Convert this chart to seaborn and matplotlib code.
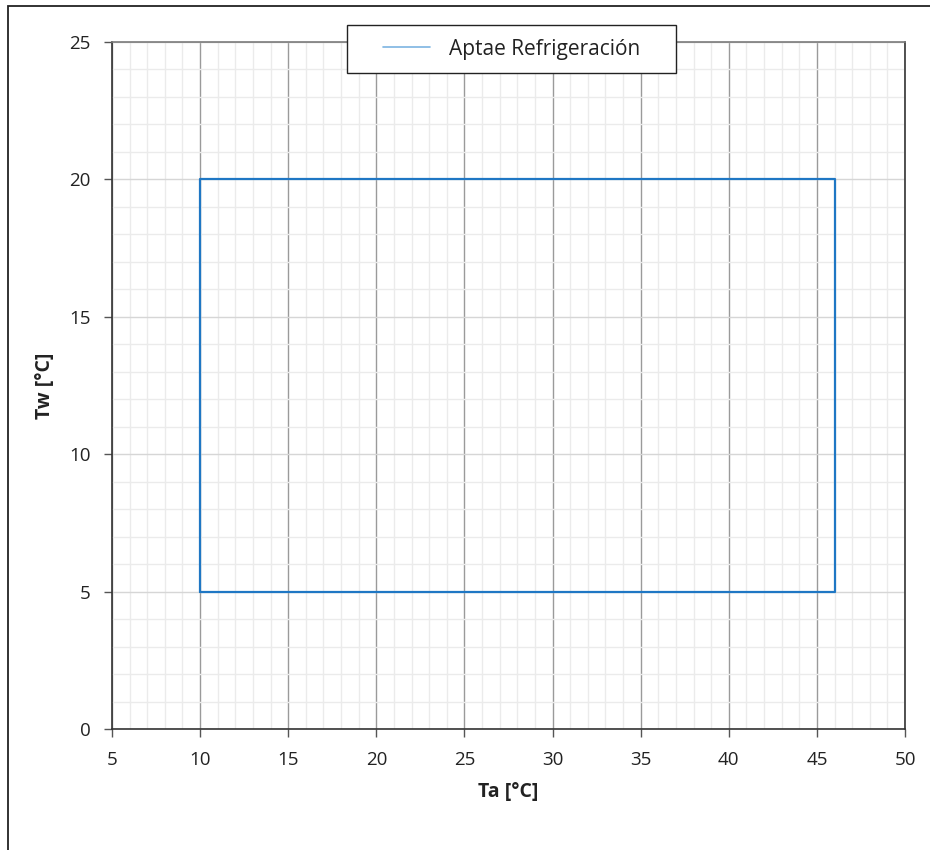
import pandas as pd
import seaborn as sns
import matplotlib.pyplot as plt
from matplotlib.patches import Rectangle
from matplotlib.ticker import MultipleLocator

# envelope corners (Ta, Tw)
ta = [10, 46, 46, 10, 10]
tw = [5, 5, 20, 20, 5]
series = ["Aptae Refrigeración"] * len(ta)

x_ticks = [5, 10, 15, 20, 25, 30, 35, 40, 45, 50]
y_ticks = [0, 5, 10, 15, 20, 25]

df = pd.DataFrame({"Ta": ta, "Tw": tw, "serie": series})

sns.set_style("white")
plt.rcParams["font.family"] = ["Open Sans", "DejaVu Sans"]

W, H = 930, 850
fig = plt.figure(figsize=(W / 100, H / 100), dpi=100)
ax = fig.add_axes([112 / W, 1 - 729 / H, (905 - 112) / W, (729 - 42) / H])

# outer frame (only left/top visible in the reference)
fig.patches.append(Rectangle((8 / W, -0.1), 1.2, 1 - 6 / H + 0.1,
                             transform=fig.transFigure, fill=False,
                             edgecolor="#222222", linewidth=1.3, zorder=0))

sns.lineplot(data=df, x="Ta", y="Tw", hue="serie", sort=False, estimator=None,
             palette=["#1f77c4"], linewidth=1.6, ax=ax, zorder=3)

ax.set_xlim(5, 50)
ax.set_ylim(0, 25)
ax.set_xticks(x_ticks)
ax.set_yticks(y_ticks)
ax.xaxis.set_minor_locator(MultipleLocator(1))
ax.yaxis.set_minor_locator(MultipleLocator(1))

ax.grid(which="minor", axis="both", color="#ebebeb", linewidth=1.0, zorder=0)
ax.grid(which="major", axis="y", color="#d6d6d6", linewidth=1.0, zorder=0)
ax.grid(which="major", axis="x", color="#9a9a9a", linewidth=1.0, zorder=0)
ax.set_axisbelow(True)

ax.tick_params(which="major", axis="both", direction="out", length=6, width=1,
               color="#555555", labelsize=13.5, labelcolor="#222222", pad=9.5,
               left=True, bottom=True)
ax.tick_params(which="minor", length=0)

for side in ["left", "bottom", "right"]:
    ax.spines[side].set_color("#333333")
    ax.spines[side].set_linewidth(1.2)
ax.spines["top"].set_color("#7a7a7a")
ax.spines["top"].set_linewidth(1.2)

ax.set_xlabel("Ta [°C]", fontsize=14, fontweight="bold", color="#222222", labelpad=10)
ax.set_ylabel("Tw [°C]", fontsize=14, fontweight="bold", color="#222222", labelpad=10)

# legend box drawn separately to get the wide side padding of the reference
box = Rectangle((347 / W, 1 - 73 / H), (676 - 347) / W, (73 - 25) / H,
                transform=fig.transFigure, facecolor="white", edgecolor="#222222",
                linewidth=1.0, zorder=4.9, clip_on=False)
ax.add_artist(box)

cx = ((511.5 - 112) / (905 - 112))
cy = 1 - (49 - 42) / (729 - 42)
leg = ax.legend(loc="center", bbox_to_anchor=(cx, cy), frameon=False,
                fontsize=15, handlelength=2.3, handletextpad=0.9,
                borderpad=0, borderaxespad=0)
leg.set_zorder(5)
for h in leg.get_lines():
    h.set_color("#7db4e2")
    h.set_linewidth(1.2)
for t in leg.get_texts():
    t.set_color("#222222")

fig.savefig("out.png", dpi=100)
